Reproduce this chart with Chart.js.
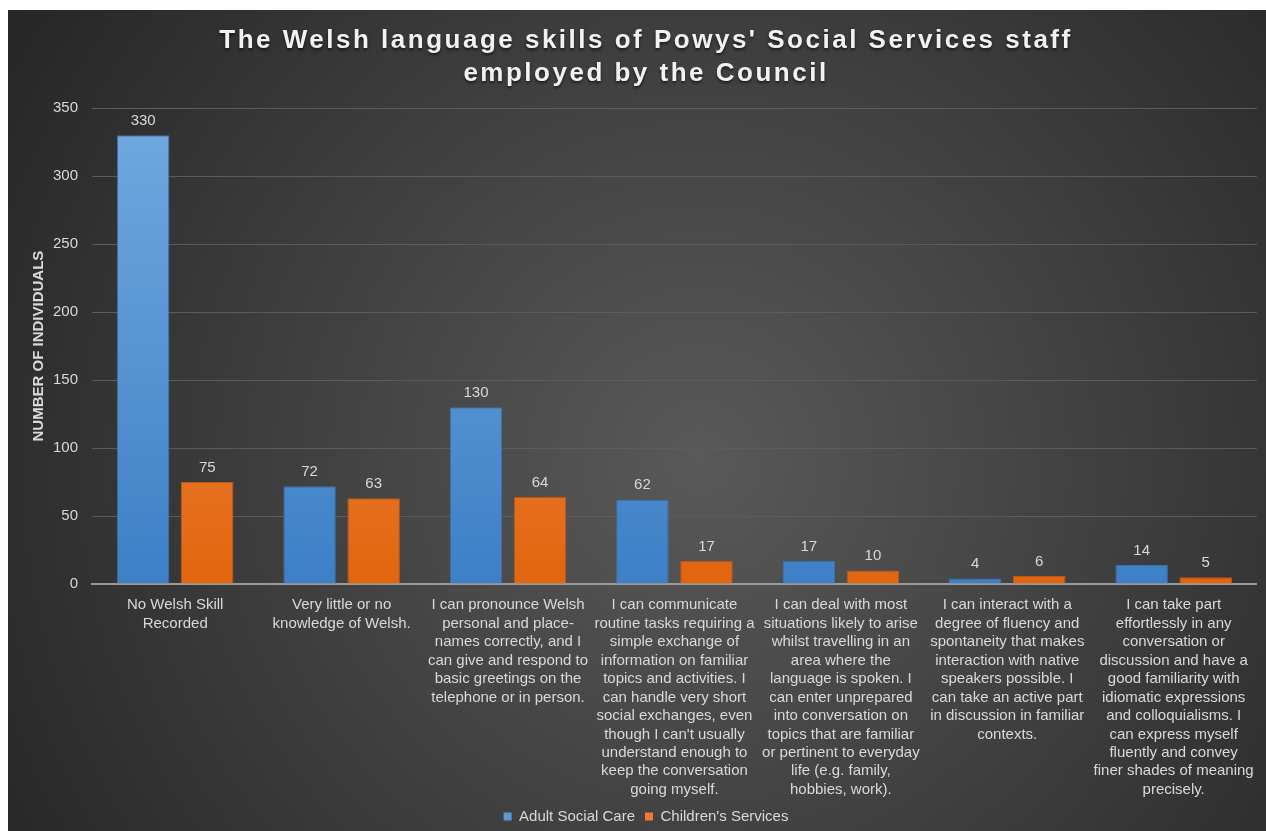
<!DOCTYPE html>
<html>
<head>
<meta charset="utf-8">
<script src="https://cdn.jsdelivr.net/npm/chart.js@4/dist/chart.umd.min.js"></script>
<style>
    html, body { margin: 0; padding: 0; background: #fff; }
    #wrap { position: absolute; left: 8px; top: 10px; width: 1258px; height: 821px; }
</style>
</head>
<body>
<div id="wrap"><canvas id="skills-chart"></canvas></div>
<script>
// values
var categories = [
    ["No Welsh Skill", "Recorded"],
    ["Very little or no", "knowledge of Welsh."],
    ["I can pronounce Welsh", "personal and place-", "names correctly, and I", "can give and respond to", "basic greetings on the", "telephone or in person."],
    ["I can communicate", "routine tasks requiring a", "simple exchange of", "information on familiar", "topics and activities. I", "can handle very short", "social exchanges, even", "though I can't usually", "understand enough to", "keep the conversation", "going myself."],
    ["I can deal with most", "situations likely to arise", "whilst travelling in an", "area where the", "language is spoken. I", "can enter unprepared", "into conversation on", "topics that are familiar", "or pertinent to everyday", "life (e.g. family,", "hobbies, work)."],
    ["I can interact with a", "degree of fluency and", "spontaneity that makes", "interaction with native", "speakers possible. I", "can take an active part", "in discussion in familiar", "contexts."],
    ["I can take part", "effortlessly in any", "conversation or", "discussion and have a", "good familiarity with", "idiomatic expressions", "and colloquialisms. I", "can express myself", "fluently and convey", "finer shades of meaning", "precisely."]
];
var adultSocialCare = [330, 72, 130, 62, 17, 4, 14];
var childrensServices = [75, 63, 64, 17, 10, 6, 5];
var yTicks = [0, 50, 100, 150, 200, 250, 300, 350];

var FONT = "'Liberation Sans', Arial, sans-serif";
var TEXT = "#d9d9d9";

function barGradient(ctx, area, top, bottom) {
    if (!area) return top;
    var g = ctx.createLinearGradient(0, area.top, 0, area.bottom);
    g.addColorStop(0, top);
    g.addColorStop(1, bottom);
    return g;
}

var backdrop = {
    id: "backdrop",
    beforeDraw: function(chart) {
        var ctx = chart.ctx, w = chart.width, h = chart.height;
        ctx.save();
        var g = ctx.createRadialGradient(w * 0.55, h * 0.55, 0, w * 0.55, h * 0.55, w * 0.65);
        g.addColorStop(0, "#595959");
        g.addColorStop(1, "#262626");
        ctx.fillStyle = g;
        ctx.fillRect(0, 0, w, h);
        ctx.restore();

        // spaced-out title like the original
        var tb = chart.titleBlock;
        if (tb && !tb._spaced) {
            var orig = tb.draw.bind(tb);
            tb.draw = function() {
                chart.ctx.save();
                chart.ctx.letterSpacing = "2.5px";
                chart.ctx.shadowColor = "rgba(0,0,0,0.6)";
                chart.ctx.shadowBlur = 3;
                chart.ctx.shadowOffsetY = 2;
                orig();
                chart.ctx.restore();
            };
            tb._spaced = true;
        }
    }
};

var valueLabels = {
    id: "valueLabels",
    afterDatasetsDraw: function(chart) {
        var ctx = chart.ctx;
        ctx.save();
        ctx.font = "15px " + FONT;
        ctx.fillStyle = TEXT;
        ctx.textAlign = "center";
        ctx.textBaseline = "bottom";
        chart.data.datasets.forEach(function(ds, i) {
            chart.getDatasetMeta(i).data.forEach(function(bar, j) {
                ctx.fillText(ds.data[j], bar.x, bar.y - 7);
            });
        });
        ctx.restore();
    }
};

new Chart(document.getElementById("skills-chart"), {
    type: "bar",
    data: {
        labels: categories,
        datasets: [
            {
                label: "Adult Social Care",
                data: adultSocialCare,
                backgroundColor: function(c) { return barGradient(c.chart.ctx, c.chart.chartArea, "#72a9e0", "#3d80c6"); },
                borderColor: "#3a6fa8",
                borderWidth: 1
            },
            {
                label: "Children's Services",
                data: childrensServices,
                backgroundColor: function(c) { return barGradient(c.chart.ctx, c.chart.chartArea, "#f39a62", "#e2650e"); },
                borderColor: "#b9581a",
                borderWidth: 1
            }
        ]
    },
    options: {
        responsive: true,
        maintainAspectRatio: false,
        animation: false,
        devicePixelRatio: 1,
        layout: {padding: {left: 22, right: 4, top: 14, bottom: -3}},
        datasets: {bar: {categoryPercentage: 0.77, barPercentage: 0.82}},
        plugins: {
            title: {
                display: true,
                text: ["The Welsh language skills of Powys' Social Services staff", "employed by the Council"],
                color: "#f2f2f2",
                font: {family: FONT, size: 26, weight: "bold", lineHeight: 1.27},
                padding: {top: 0, bottom: 18}
            },
            legend: {
                position: "bottom",
                labels: {
                    color: TEXT,
                    font: {family: FONT, size: 15},
                    boxWidth: 8,
                    boxHeight: 8,
                    padding: 10,
                    generateLabels: function(chart) {
                        var fills = ["#5b9bd5", "#ed7d31"];
                        return chart.data.datasets.map(function(ds, i) {
                            return {text: ds.label, fillStyle: fills[i], strokeStyle: fills[i], lineWidth: 0, fontColor: TEXT, datasetIndex: i};
                        });
                    }
                }
            },
            tooltip: {enabled: false}
        },
        scales: {
            x: {
                grid: {display: false, drawTicks: false},
                border: {color: "#9a9a9a", width: 2},
                afterFit: function(axis) { axis.height -= 12; },
                ticks: {
                    color: TEXT,
                    font: {family: FONT, size: 15, lineHeight: 1.23},
                    maxRotation: 0,
                    autoSkip: false,
                    padding: 12
                }
            },
            y: {
                min: 0,
                max: yTicks[yTicks.length - 1],
                afterBuildTicks: function(axis) { axis.ticks = yTicks.map(function(v) { return {value: v}; }); },
                afterFit: function(axis) { axis.width = 62; },
                grid: {color: "#5c5c5c", lineWidth: 1, drawTicks: false},
                border: {display: false},
                ticks: {color: TEXT, font: {family: FONT, size: 15}, padding: 14},
                title: {
                    display: true,
                    text: "NUMBER OF INDIVIDUALS",
                    color: TEXT,
                    font: {family: FONT, size: 15, weight: "bold"},
                    padding: {top: 0, bottom: 0}
                }
            }
        }
    },
    plugins: [backdrop, valueLabels]
});
</script>
</body>
</html>
